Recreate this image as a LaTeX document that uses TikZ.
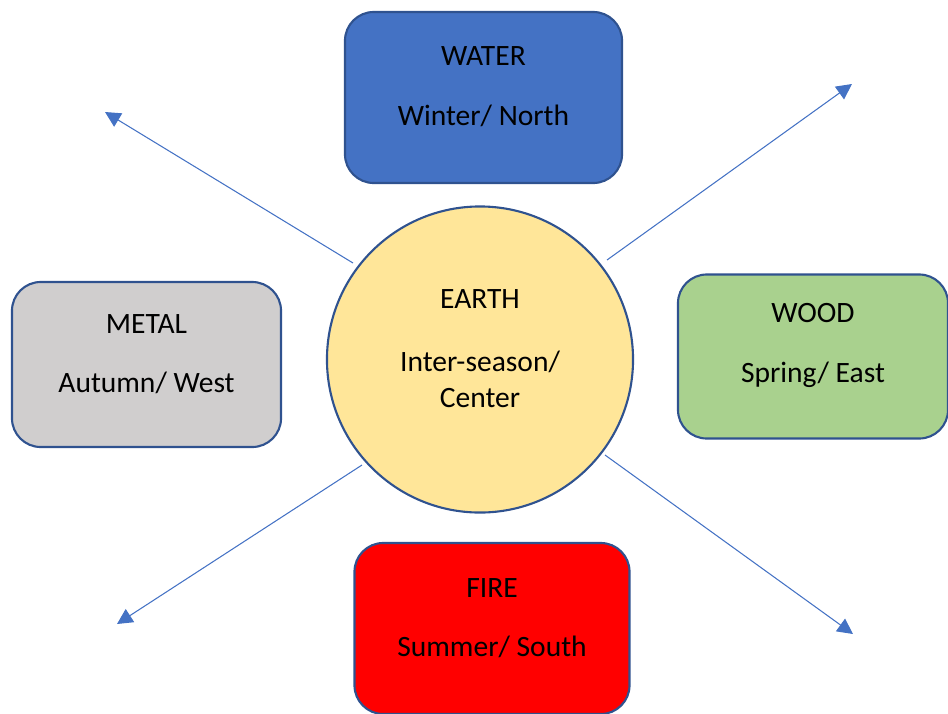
\documentclass[tikz,border=0pt]{standalone}
\usepackage{fontspec}
\setmainfont{Carlito}
\usepackage{xcolor}
\usetikzlibrary{arrows.meta}
\definecolor{waterblue}{HTML}{4472C4}
\definecolor{edgeblue}{HTML}{2F528F}
\definecolor{earthyellow}{HTML}{FFE699}
\definecolor{metalgrey}{HTML}{D0CECE}
\definecolor{woodgreen}{HTML}{A9D18E}
\definecolor{firered}{HTML}{FF0000}
\tikzset{
    element/.style = {
        draw            = edgeblue,
        line width      = 1.5pt,
        rounded corners = 0.72cm,
        inner sep       = 0pt,
    },
    caption/.style = {
        align = center,
        inner sep = 0pt,
        font  = \fontsize{21}{25.6}\selectfont,
    },
    ray/.style = {
        draw       = waterblue,
        line width = 0.75pt,
        -{Triangle[length=11pt, width=11pt]},
    },
}

\begin{document}
\begin{tikzpicture}[x=0.025cm, y=-0.025cm]
        \clip (0,0) rectangle (948,713);

        \node (earth) [element, circle, fill=earthyellow, minimum size=7.65cm] at (480,359.5) {};
        \node (water) [element, fill=waterblue, minimum width=6.925cm, minimum height=4.275cm] at (483.5,97.5) {};
        \node (metal) [element, fill=metalgrey, minimum width=6.725cm, minimum height=4.125cm] at (146.5,364.5) {};
        \node (wood) [element, fill=woodgreen, minimum width=6.75cm, minimum height=4.1cm] at (813,356.5) {};
        \node (fire) [element, fill=firered, minimum width=6.875cm, minimum height=4.275cm] at (492,628.5) {};

        \node (earth text) [caption] at ([yshift=0.275cm]earth.center) {EARTH\\[19pt]Inter-season/\\Center};
        \node (water text) [caption] at ([yshift=0.275cm]water.center) {WATER\\[17pt]Winter/ North};
        \node (metal text) [caption] at ([yshift=0.26cm]metal.center) {METAL\\[17pt]Autumn/ West};
        \node (wood text) [caption] at ([yshift=0.27cm]wood.center) {WOOD\\[17pt]Spring/ East};
        \node (fire text) [caption] at ([yshift=0.26cm]fire.center) {FIRE\\[17pt]Summer/ South};

        \coordinate (nw start) at (353,263);
        \coordinate (nw tip) at (105,112);
        \coordinate (ne start) at (607,260);
        \coordinate (ne tip) at (852,84);
        \coordinate (sw start) at (362,465);
        \coordinate (sw tip) at (117,624);
        \coordinate (se start) at (605,455);
        \coordinate (se tip) at (853,634);

        \draw [ray] (nw start) -- (nw tip);
        \draw [ray] (ne start) -- (ne tip);
        \draw [ray] (sw start) -- (sw tip);
        \draw [ray] (se start) -- (se tip);

    \end{tikzpicture}
\end{document}
